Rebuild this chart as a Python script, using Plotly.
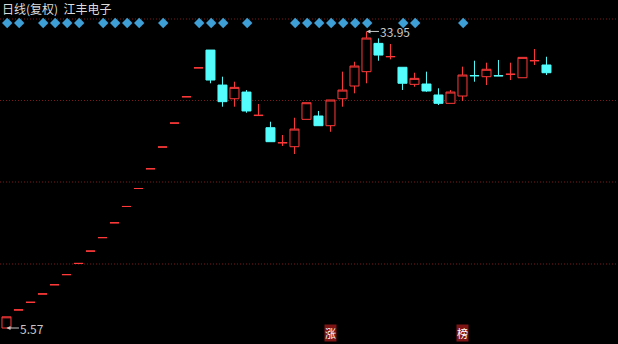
import plotly.graph_objects as go

# ---- data ----
title_text = "日线(复权)\u00a0 江丰电子"
idx = list(range(46))
opens = [5.57, 7.30, 8.03, 8.83, 9.71, 10.68, 11.75, 12.93, 14.22, 15.64, 17.20, 18.92, 20.81, 22.89, 25.18, 27.70, 30.47,
         32.17, 28.82, 27.51, 28.15, 25.90, 24.74, 23.28, 22.92, 25.54, 25.86, 24.93, 27.51, 28.73, 30.10,
         32.81, 31.52, 30.52, 28.89, 28.92, 27.87, 27.07, 27.77, 29.73, 29.62, 29.73, 29.84, 29.52, 31.14, 30.74]
highs = [6.64, 7.30, 8.03, 8.83, 9.71, 10.68, 11.75, 12.93, 14.22, 15.64, 17.20, 18.92, 20.81, 22.89, 25.18, 27.70, 30.47,
         32.17, 29.62, 29.14, 28.34, 27.01, 25.31, 24.04, 25.69, 27.13, 26.34, 27.39, 30.10, 31.05, 33.95,
         33.29, 32.75, 30.52, 30.00, 30.10, 28.51, 28.34, 30.58, 31.15, 30.96, 31.22, 30.96, 31.47, 32.27, 31.53]
lows = [5.57, 7.30, 8.03, 8.83, 9.71, 10.68, 11.75, 12.93, 14.22, 15.64, 17.20, 18.92, 20.81, 22.89, 25.18, 27.70, 30.47,
        28.99, 26.75, 26.75, 26.17, 25.90, 23.40, 22.99, 22.22, 25.54, 24.93, 24.35, 26.75, 28.03, 28.99,
        31.15, 31.28, 28.35, 28.66, 28.18, 26.91, 27.07, 27.29, 29.14, 28.82, 29.68, 29.30, 29.52, 30.74, 29.78]
closes = [6.64, 7.30, 8.03, 8.83, 9.71, 10.68, 11.75, 12.93, 14.22, 15.64, 17.20, 18.92, 20.81, 22.89, 25.18, 27.70, 30.47,
          29.30, 27.23, 28.60, 26.34, 25.93, 23.40, 23.31, 24.61, 27.13, 24.93, 27.39, 28.34, 30.64, 33.32,
          31.69, 31.55, 28.99, 29.46, 28.25, 27.07, 28.15, 29.78, 29.71, 30.33, 29.70, 29.86, 31.47, 31.16, 30.00]
signal_idx = [0, 1, 3, 4, 5, 6, 8, 9, 10, 11, 13, 16, 17, 18, 20, 24, 25, 26, 27, 28, 29, 30, 33, 34, 38]
badge_idx = [27, 38]
badge_text = ["涨", "榜"]

RED = "#ff3a3a"
CYAN = "#54fcfc"
GRID = "#7a1a1a"
TXT = "#c8c8c8"
FONT = "Noto Sans CJK SC"

fig = go.Figure()
fig.add_trace(go.Candlestick(
    x=idx, open=opens, high=highs, low=lows, close=closes,
    increasing=dict(line=dict(color=RED, width=1), fillcolor="#000000"),
    decreasing=dict(line=dict(color=CYAN, width=1), fillcolor=CYAN),
    whiskerwidth=0, hoverinfo="skip", showlegend=False,
))
fig.add_trace(go.Scatter(
    x=[i + 0.06 for i in signal_idx], y=[0.933] * len(signal_idx), yaxis="y2", mode="markers",
    marker=dict(symbol="diamond", size=8, color="#3d9fd6", line=dict(width=0)),
    hoverinfo="skip", showlegend=False,
))

shapes = []
for yp in [1 - 19 / 344, 1 - 100.5 / 344, 1 - 182 / 344, 1 - 264 / 344]:
    shapes.append(dict(type="line", xref="paper", yref="paper", x0=0, x1=1, y0=yp, y1=yp,
                       line=dict(color=GRID, width=1, dash="1px,2px"), layer="below"))

hi_i = highs.index(max(highs))
lo_i = lows.index(min(lows))
annotations = [
    dict(xref="paper", yref="paper", x=0, y=1 - 8 / 344, xanchor="left", yanchor="middle",
         text=title_text, showarrow=False, font=dict(family=FONT, size=12, color="#dcdcdc")),
    dict(x=hi_i, y=max(highs), text=f"{max(highs):.2f}", showarrow=True, ax=29, ay=0,
         arrowhead=2, arrowsize=0.8, arrowwidth=1, arrowcolor=TXT,
         font=dict(family=FONT, size=12, color=TXT)),
    dict(x=lo_i, y=min(lows), text=f"{min(lows):.2f}", showarrow=True, ax=26, ay=0,
         arrowhead=2, arrowsize=0.8, arrowwidth=1, arrowcolor=TXT,
         font=dict(family=FONT, size=12, color=TXT)),
]
for i, t in zip(badge_idx, badge_text):
    annotations.append(dict(x=i, yref="paper", y=0.006, text=t, showarrow=False,
                            xanchor="center", yanchor="bottom", bgcolor="#7e1414", borderpad=0,
                            font=dict(family=FONT, size=11, color="#ffffff")))

fig.update_layout(
    width=618, height=344, margin=dict(l=0, r=0, t=0, b=0),
    paper_bgcolor="#000000", plot_bgcolor="#000000",
    boxgap=0.25, boxgroupgap=0,
    xaxis=dict(range=[-0.54, 50.96], visible=False, rangeslider=dict(visible=False), fixedrange=True),
    yaxis=dict(range=[4.039, 36.96], visible=False, showgrid=False, fixedrange=True),
    yaxis2=dict(range=[0, 1], overlaying="y", visible=False, fixedrange=True),
    shapes=shapes, annotations=annotations, showlegend=False,
)
fig.write_html("out.html")
